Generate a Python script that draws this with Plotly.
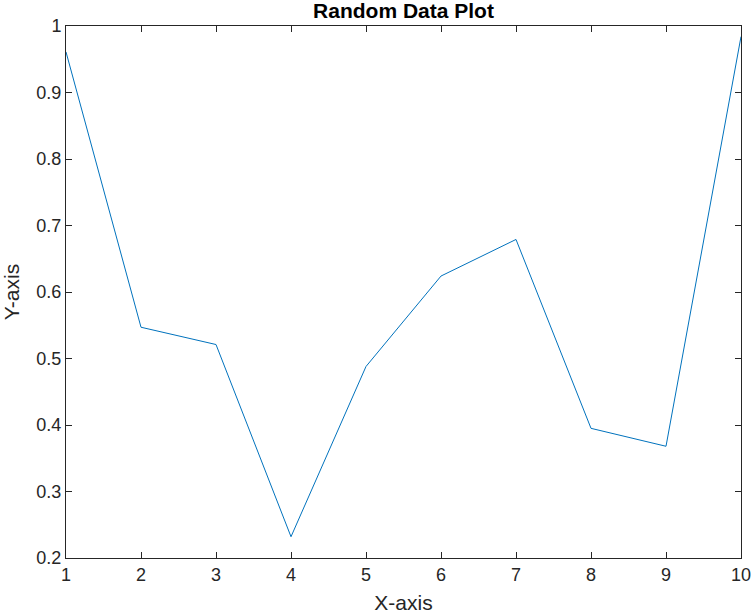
import plotly.graph_objects as go

x_vals = [1, 2, 3, 4, 5, 6, 7, 8, 9, 10]
y_vals = [0.961, 0.547, 0.521, 0.232, 0.488, 0.624, 0.679, 0.395, 0.368, 0.984]
y_ticks = [0.2, 0.3, 0.4, 0.5, 0.6, 0.7, 0.8, 0.9, 1]
y_ticktext = ["0.2", "0.3", "0.4", "0.5", "0.6", "0.7", "0.8", "0.9", "1"]

font = "Liberation Sans, Arial, sans-serif"

fig = go.Figure()
fig.add_trace(go.Scatter(x=x_vals, y=y_vals, mode="lines",
                         line=dict(color="#0072BD", width=1), showlegend=False))

axis_common = dict(showline=True, linecolor="#262626", linewidth=1, mirror="ticks",
                   ticks="inside", ticklen=6, tickcolor="#262626", tickwidth=1,
                   showgrid=False, zeroline=False, automargin=False,
                   tickfont=dict(family=font, size=18, color="#262626"))

fig.update_xaxes(range=[1, 10], tickvals=x_vals, ticktext=[str(v) for v in x_vals],
                 title=dict(text="X-axis", font=dict(family=font, size=21, color="#262626"), standoff=11),
                 **axis_common)
fig.update_yaxes(range=[0.2, 1], tickvals=y_ticks, ticktext=y_ticktext,
                 title=dict(text="Y-axis", font=dict(family=font, size=21, color="#262626"), standoff=11),
                 **axis_common)

fig.update_layout(
    width=755, height=615,
    margin=dict(l=66, r=14, t=26, b=57),
    plot_bgcolor="white", paper_bgcolor="white",
    title=dict(text="<b>Random Data Plot</b>", x=0.5, xref="paper", xanchor="center",
               y=0.982, yref="container", yanchor="middle", pad=dict(t=0, b=0),
               font=dict(family=font, size=21, color="black")),
)

fig.write_html("out.html")
